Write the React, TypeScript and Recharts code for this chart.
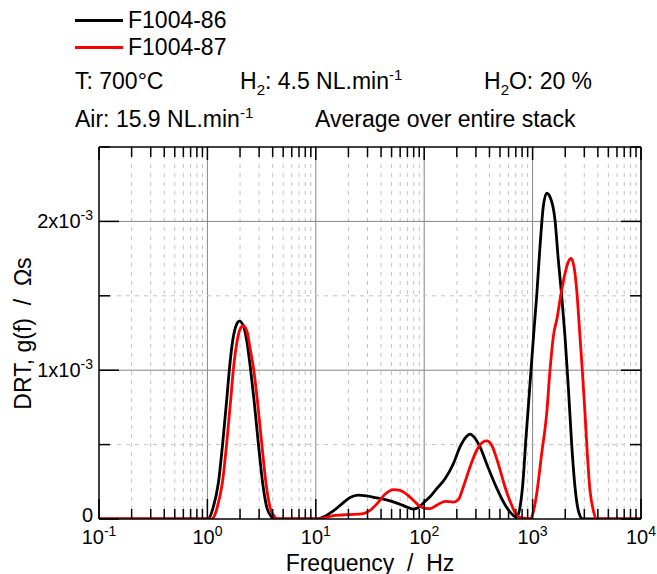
import React from 'react';
import { LineChart, Line, XAxis, YAxis, ReferenceLine } from 'recharts';

const FONT = '"Liberation Sans", Arial, Helvetica, sans-serif';

const seriesNames = ['F1004-86', 'F1004-87'];
const seriesColors = ['#000000', '#ff0000'];

// frequency (Hz) and DRT g(f) in units of 10^-3 Ωs
const freq86 = [0.1, 0.95, 1.019, 1.133, 1.261, 1.384, 1.507, 1.592, 1.712, 1.863, 1.969, 2.144, 2.305, 2.508, 2.691, 2.949, 3.237, 3.525, 3.92, 4.203, 10.19, 12.16, 14.5, 17.33, 20.69, 24.67, 29.49, 35.17, 41.95, 50.13, 59.81, 71.35, 79.33, 88.23, 99.6, 113.1, 130.4, 155.6, 185.5, 213.9, 246.7, 264.6, 283.8, 327.2, 377.3, 434, 500.2, 576.9, 663.7, 713.5, 765.4, 815.2, 869.6, 912.9, 966.4, 1030, 1091, 1170, 1255, 1349, 1447, 1609, 1727, 1856, 1991, 2135, 2295, 2461, 2640, 2899, 10000];
const drt86 = [0, 0, 0.002, 0.08, 0.24, 0.51, 0.8, 1.0, 1.2, 1.31, 1.33, 1.3, 1.2, 1.0, 0.8, 0.51, 0.24, 0.08, 0.013, 0, 0, 0.018, 0.054, 0.1, 0.144, 0.161, 0.155, 0.144, 0.134, 0.119, 0.099, 0.077, 0.067, 0.077, 0.112, 0.15, 0.204, 0.27, 0.37, 0.484, 0.556, 0.57, 0.556, 0.484, 0.37, 0.26, 0.16, 0.077, 0.025, 0.013, 0.08, 0.25, 0.55, 0.753, 1.0, 1.27, 1.5, 1.83, 2.1, 2.19, 2.165, 2.01, 1.74, 1.5, 1.224, 0.888, 0.5, 0.215, 0.058, 0, 0];

const freq87 = [0.1, 1.096, 1.175, 1.234, 1.372, 1.507, 1.64, 1.733, 1.863, 2.012, 2.144, 2.319, 2.472, 2.691, 2.886, 3.169, 3.472, 3.78, 4.178, 4.48, 10.19, 12.16, 14.5, 17.33, 20.69, 27.43, 31.62, 36.46, 43.49, 51.86, 59.81, 68.96, 79.33, 91.47, 101.7, 113.1, 130.4, 155.6, 185.5, 206.4, 229.5, 264.6, 305.1, 350.9, 377.3, 419.5, 482.6, 556.5, 641.7, 713.5, 793.4, 946.2, 1009, 1091, 1213, 1349, 1447, 1552, 1690, 1816, 1991, 2135, 2261, 2409, 2552, 2736, 2874, 3044, 3196, 3384, 3631, 3902, 10000];
const drt87 = [0, 0, 0.03, 0.08, 0.24, 0.51, 0.8, 1.0, 1.18, 1.28, 1.3, 1.26, 1.15, 0.99, 0.8, 0.51, 0.24, 0.08, 0.013, 0, 0, 0.009, 0.023, 0.027, 0.03, 0.036, 0.058, 0.1, 0.166, 0.198, 0.193, 0.166, 0.126, 0.085, 0.072, 0.07, 0.092, 0.119, 0.114, 0.13, 0.215, 0.35, 0.462, 0.518, 0.525, 0.496, 0.37, 0.215, 0.092, 0.025, 0.007, 0.003, 0.04, 0.17, 0.44, 0.71, 1.0, 1.224, 1.358, 1.5, 1.65, 1.728, 1.751, 1.695, 1.538, 1.224, 1.0, 0.709, 0.44, 0.193, 0.058, 0, 0];

const DRT_UNIT = 1e-3;

const xMajorTicks = [0.1, 1, 10, 100, 1000, 10000];
const xTickExponents = ['-1', '0', '1', '2', '3', '4'];
const xMinorTicks = [
  0.2, 0.3, 0.4, 0.5, 0.6, 0.7, 0.8, 0.9,
  2, 3, 4, 5, 6, 7, 8, 9,
  20, 30, 40, 50, 60, 70, 80, 90,
  200, 300, 400, 500, 600, 700, 800, 900,
  2000, 3000, 4000, 5000, 6000, 7000, 8000, 9000,
];
const yMajorTicks = [0, 0.001, 0.002];
const yTickBases = ['0', '1x10', '2x10'];
const yTickExponents = ['', '-3', '-3'];
const yMinorTicks = [0.0005, 0.0015, 0.0025];

const xDomain = [0.1, 10000];
const yDomain = [0, 0.0025];

const annotations = {
  temp: 'T: 700°C',
  h2: ['H', '2', ': 4.5 NL.min', '-1'],
  h2o: ['H', '2', 'O: 20 %'],
  air: ['Air: 15.9 NL.min', '-1'],
  avg: 'Average over entire stack',
};
const xTitle = 'Frequency  /  Hz';
const yTitle = 'DRT, g(f)  /  Ωs';

const data86 = freq86.map((f, i) => ({ f, g: drt86[i] * DRT_UNIT }));
const data87 = freq87.map((f, i) => ({ f, g: drt87[i] * DRT_UNIT }));
const seriesData = [data86, data87];

const allXTicks = [...xMajorTicks, ...xMinorTicks].sort((a, b) => a - b);
const allYTicks = [...yMajorTicks, ...yMinorTicks].sort((a, b) => a - b);

const TICK_FS = 20;
const SUP_FS = 14;

const BottomTick = (props: any) => {
  const { x, y, payload } = props;
  const idx = xMajorTicks.indexOf(payload.value);
  const major = idx >= 0;
  return (
    <g>
      <line x1={x} x2={x} y1={y} y2={y - (major ? 20 : 10)} stroke="#000" strokeWidth={1.5} />
      {major && (
        <text x={x} y={y + 25} textAnchor="middle" fontFamily={FONT} fontSize={TICK_FS} fill="#000">
          <tspan>10</tspan>
          <tspan dy={-8} fontSize={SUP_FS}>{xTickExponents[idx]}</tspan>
        </text>
      )}
    </g>
  );
};

const TopTick = (props: any) => {
  const { x, y, payload } = props;
  const major = xMajorTicks.indexOf(payload.value) >= 0;
  return <line x1={x} x2={x} y1={y} y2={y + (major ? 13 : 10)} stroke="#000" strokeWidth={1.5} />;
};

const LeftTick = (props: any) => {
  const { x, y, payload } = props;
  const idx = yMajorTicks.indexOf(payload.value);
  const major = idx >= 0;
  return (
    <g>
      <line x1={x} x2={x + (major ? 20 : 11)} y1={y} y2={y} stroke="#000" strokeWidth={1.5} />
      {major && (
        <text x={x - 6} y={y + (idx === 0 ? 3 : 7)} textAnchor="end" fontFamily={FONT} fontSize={TICK_FS} fill="#000">
          <tspan>{yTickBases[idx]}</tspan>
          {yTickExponents[idx] && <tspan dy={-8} fontSize={SUP_FS}>{yTickExponents[idx]}</tspan>}
        </text>
      )}
    </g>
  );
};

const RightTick = (props: any) => {
  const { x, y, payload } = props;
  const major = yMajorTicks.indexOf(payload.value) >= 0;
  return <line x1={x} x2={x - (major ? 20 : 11)} y1={y} y2={y} stroke="#000" strokeWidth={1.5} />;
};

const TXT_FS = 23;

const Txt = ({ x, cy, children, size = TXT_FS }: any) => (
  <div
    style={{
      position: 'absolute',
      left: x,
      top: cy - size * 0.49,
      fontSize: size,
      lineHeight: 1,
      whiteSpace: 'pre',
      fontFamily: FONT,
      color: '#000',
    }}
  >
    {children}
  </div>
);

const Sub = ({ children }: any) => (
  <span style={{ fontSize: 15, position: 'relative', top: 6 }}>{children}</span>
);
const Sup = ({ children }: any) => (
  <span style={{ fontSize: 15, position: 'relative', top: -9 }}>{children}</span>
);

export default function App() {
  const axisLine = { stroke: '#000', strokeWidth: 1.5 };
  return (
    <div style={{ position: 'absolute', left: 0, top: 0, width: 657, height: 574, background: '#fff', overflow: 'hidden' }}>
      <LineChart width={657} height={574} margin={{ top: 146, right: 15, bottom: 54, left: 98 }}>
        <XAxis
          xAxisId="b"
          dataKey="f"
          type="number"
          scale="log"
          domain={xDomain}
          ticks={allXTicks}
          interval={0}
          allowDataOverflow
          height={1}
          tickSize={0}
          tickMargin={0}
          tickLine={false}
          axisLine={axisLine}
          tick={(p: any) => <BottomTick {...p} />}
        />
        <XAxis
          xAxisId="t"
          orientation="top"
          dataKey="f"
          type="number"
          scale="log"
          domain={xDomain}
          ticks={allXTicks}
          interval={0}
          allowDataOverflow
          height={1}
          tickSize={0}
          tickMargin={0}
          tickLine={false}
          axisLine={axisLine}
          tick={(p: any) => <TopTick {...p} />}
        />
        <YAxis
          yAxisId="l"
          type="number"
          domain={yDomain}
          ticks={allYTicks}
          interval={0}
          allowDataOverflow
          width={1}
          tickSize={0}
          tickMargin={0}
          tickLine={false}
          axisLine={axisLine}
          tick={(p: any) => <LeftTick {...p} />}
        />
        <YAxis
          yAxisId="r"
          orientation="right"
          type="number"
          domain={yDomain}
          ticks={allYTicks}
          interval={0}
          allowDataOverflow
          width={1}
          tickSize={0}
          tickMargin={0}
          tickLine={false}
          axisLine={axisLine}
          tick={(p: any) => <RightTick {...p} />}
        />
        {xMinorTicks.map((v) => (
          <ReferenceLine key={'xm' + v} xAxisId="b" yAxisId="l" x={v} stroke="#c4c4c4" strokeWidth={1} strokeDasharray="4 5" />
        ))}
        {xMajorTicks.slice(1, -1).map((v) => (
          <ReferenceLine key={'xM' + v} xAxisId="b" yAxisId="l" x={v} stroke="#858585" strokeWidth={1} />
        ))}
        {yMinorTicks.slice(0, -1).map((v) => (
          <ReferenceLine key={'ym' + v} xAxisId="b" yAxisId="l" y={v} stroke="#c4c4c4" strokeWidth={1} strokeDasharray="4 5" />
        ))}
        {yMajorTicks.slice(1).map((v) => (
          <ReferenceLine key={'yM' + v} xAxisId="b" yAxisId="l" y={v} stroke="#858585" strokeWidth={1} />
        ))}
        {seriesData.map((d, i) => (
          <Line
            key={seriesNames[i]}
            xAxisId="b"
            yAxisId="l"
            data={d}
            dataKey="g"
            name={seriesNames[i]}
            type="monotone"
            stroke={seriesColors[i]}
            strokeWidth={2.8}
            dot={false}
            activeDot={false}
            isAnimationActive={false}
          />
        ))}
      </LineChart>

      {seriesNames.map((n, i) => (
        <React.Fragment key={n}>
          <div
            style={{
              position: 'absolute',
              left: 75,
              top: 20 + 27 * i - 1.5,
              width: 48,
              height: 3,
              background: seriesColors[i],
            }}
          />
          <Txt x={128} cy={20 + 27 * i}>{n}</Txt>
        </React.Fragment>
      ))}
      <Txt x={75} cy={81}>{annotations.temp}</Txt>
      <Txt x={240} cy={81}>
        {annotations.h2[0]}<Sub>{annotations.h2[1]}</Sub>{annotations.h2[2]}<Sup>{annotations.h2[3]}</Sup>
      </Txt>
      <Txt x={484} cy={81}>
        {annotations.h2o[0]}<Sub>{annotations.h2o[1]}</Sub>{annotations.h2o[2]}
      </Txt>
      <Txt x={75} cy={119}>
        {annotations.air[0]}<Sup>{annotations.air[1]}</Sup>
      </Txt>
      <Txt x={315} cy={119}>{annotations.avg}</Txt>

      <div
        style={{
          position: 'absolute',
          left: 370 - 150,
          top: 563 - 11.5,
          width: 300,
          textAlign: 'center',
          fontSize: 23,
          lineHeight: 1,
          whiteSpace: 'pre',
          fontFamily: FONT,
        }}
      >
        {xTitle}
      </div>
      <div
        style={{
          position: 'absolute',
          left: 23 - 150,
          top: 333 - 11.5,
          width: 300,
          textAlign: 'center',
          fontSize: 23,
          lineHeight: 1,
          whiteSpace: 'pre',
          fontFamily: FONT,
          transform: 'rotate(-90deg)',
        }}
      >
        {yTitle}
      </div>
    </div>
  );
}
